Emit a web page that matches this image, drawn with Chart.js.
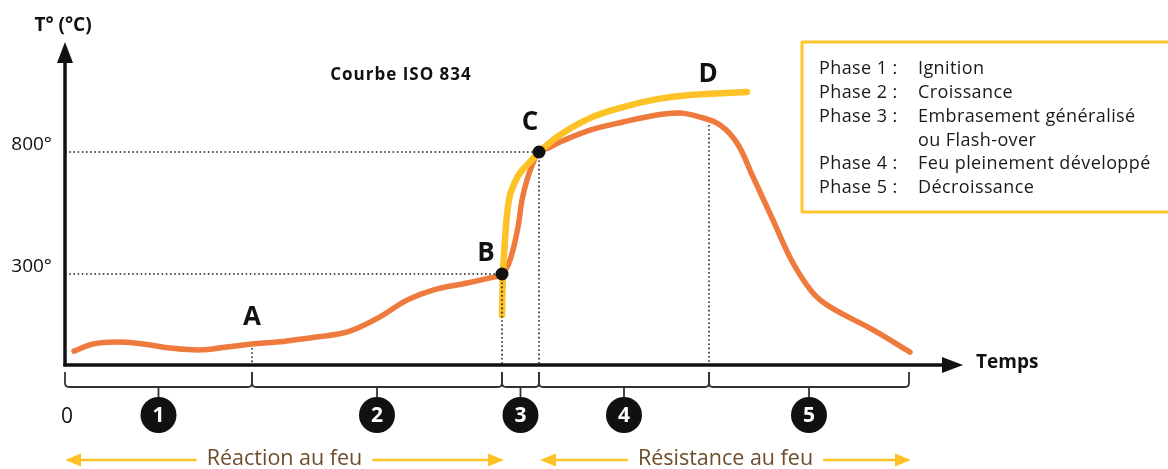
<!DOCTYPE html>
<html><head><meta charset="utf-8">
<script src="https://cdn.jsdelivr.net/npm/chart.js@4"></script>
<style>html,body{margin:0;padding:0;background:#fff;}canvas{display:block}</style>
</head><body>
<canvas id="c" width="1168" height="469"></canvas>
<script>
// ---- data (time units, temperature °C) ----
const fireTime = [9, 28, 52, 78, 105, 135, 162, 187, 212, 245, 278, 295, 315, 342, 368, 402, 425, 437, 445, 453, 457, 462, 468, 474, 485, 495, 525, 558, 592, 615, 635, 655, 672, 688, 708, 728, 748, 765, 808, 845];
const fireTemp = [-16, 13, 21, 13, -3, -11, 1, 13, 21, 38, 58, 83, 124, 193, 234, 263, 284, 300, 357, 493, 603, 685, 755, 800, 820, 841, 890, 923, 952, 960, 943, 911, 837, 698, 521, 345, 222, 165, 71, -20];
const isoTime = [437, 438, 440, 442, 445, 450, 455, 465, 474, 495, 525, 558, 592, 625, 682];
const isoTemp = [132, 304, 439, 542, 624, 677, 714, 759, 800, 870, 939, 984, 1017, 1034, 1046];
const yTickValues = [300, 800];
const markerNames = ['A', 'B', 'C', 'D'];
const markerTime = [187, 437, 474, 644];
const markerTemp = [13, 300, 800, 919];
const phaseBounds = [0, 187, 437, 474, 644, 844];
const phaseNumbers = ['1', '2', '3', '4', '5'];
const phaseLabels = ['Phase 1 :', 'Phase 2 :', 'Phase 3 :', 'Phase 4 :', 'Phase 5 :'];
const phaseNames = [['Ignition'], ['Croissance'], ['Embrasement généralisé', 'ou Flash-over'], ['Feu pleinement développé'], ['Décroissance']];
const zoneNames = ['Réaction au feu', 'Résistance au feu'];
const zoneSpans = [[0, 2], [3, 5]];
const titleText = 'Courbe ISO 834';
const yAxisTitle = 'T° (°C)';
const xAxisTitle = 'Temps';

// ---- styles ----
const ORANGE = '#EE7A3D', YELLOW = '#FCC226', BROWN = '#6E4C2C', INK = '#111';
const markerLabelOffset = [[0, -26], [-16, -20], [-9, -29], [-1, -48]];
const markerDot = [false, true, true, false];
const markerLineStart = [4, 0, 0, 2];

const deco = {
  id: 'deco',
  afterDatasetsDraw(chart) {
    const ctx = chart.ctx, xs = chart.scales.x, ys = chart.scales.y, ca = chart.chartArea;
    const L = ca.left, B = ca.bottom;
    ctx.save();
    // dotted guide lines
    ctx.strokeStyle = '#222'; ctx.lineWidth = 1.6; ctx.setLineDash([1.6, 2.6]);
    markerNames.forEach((n, i) => {
      const px = xs.getPixelForValue(markerTime[i]), py = ys.getPixelForValue(markerTemp[i]);
      ctx.beginPath(); ctx.moveTo(px, py + markerLineStart[i]); ctx.lineTo(px, B); ctx.stroke();
      if (yTickValues.includes(markerTemp[i])) {
        ctx.beginPath(); ctx.moveTo(L, py); ctx.lineTo(px, py); ctx.stroke();
      }
    });
    ctx.setLineDash([]);
    // axes with arrows
    ctx.strokeStyle = INK; ctx.fillStyle = INK; ctx.lineWidth = 3.5;
    ctx.beginPath(); ctx.moveTo(L, B + 1.5); ctx.lineTo(L, ca.top + 18); ctx.stroke();
    ctx.beginPath(); ctx.moveTo(L, ca.top); ctx.lineTo(L - 8, ca.top + 21); ctx.lineTo(L + 8, ca.top + 21); ctx.closePath(); ctx.fill();
    ctx.beginPath(); ctx.moveTo(L - 1.5, B); ctx.lineTo(ca.right - 18, B); ctx.stroke();
    ctx.beginPath(); ctx.moveTo(ca.right, B); ctx.lineTo(ca.right - 21, B - 8); ctx.lineTo(ca.right - 21, B + 8); ctx.closePath(); ctx.fill();
    // markers
    ctx.textAlign = 'center'; ctx.textBaseline = 'middle';
    ctx.font = 'bold 26px "Open Sans"';
    markerNames.forEach((n, i) => {
      const px = xs.getPixelForValue(markerTime[i]), py = ys.getPixelForValue(markerTemp[i]);
      if (markerDot[i]) { ctx.beginPath(); ctx.arc(px, py, 6.5, 0, Math.PI * 2); ctx.fill(); }
      ctx.fillText(n, px + markerLabelOffset[i][0], py + markerLabelOffset[i][1]);
    });
    // titles
    ctx.letterSpacing = '1px';
    ctx.font = 'bold 17px "Open Sans"'; ctx.fillText(titleText, 401, 75);
    ctx.letterSpacing = '0px';
    ctx.font = 'bold 19px "Open Sans"'; ctx.fillText(yAxisTitle, L - 2, 26);
    ctx.textAlign = 'left'; ctx.fillText(xAxisTitle, ca.right + 13, B - 2);
    ctx.textAlign = 'center';
    ctx.font = '21px "Open Sans"'; ctx.fillText('0', L + 2, B + 52);
    // phase brackets
    ctx.strokeStyle = '#333'; ctx.lineWidth = 1.8; ctx.lineJoin = 'round';
    const bt = B + 7, bb = B + 22, r = 4;
    for (let i = 0; i < phaseNumbers.length; i++) {
      const x0 = xs.getPixelForValue(phaseBounds[i]), x1 = xs.getPixelForValue(phaseBounds[i + 1]);
      const m = (x0 + x1) / 2;
      ctx.beginPath();
      ctx.moveTo(x0, bt); ctx.lineTo(x0, bb - r); ctx.quadraticCurveTo(x0, bb, x0 + r, bb);
      ctx.lineTo(x1 - r, bb); ctx.quadraticCurveTo(x1, bb, x1, bb - r); ctx.lineTo(x1, bt);
      ctx.moveTo(m, bb); ctx.lineTo(m, bb + 12);
      ctx.stroke();
      ctx.fillStyle = INK; ctx.beginPath(); ctx.arc(m, B + 50, 18, 0, Math.PI * 2); ctx.fill();
      ctx.fillStyle = '#fff'; ctx.font = 'bold 21px "Open Sans"'; ctx.fillText(phaseNumbers[i], m, B + 51);
    }
    // zone arrows
    const ay = B + 95;
    ctx.font = '21.5px "Open Sans"';
    zoneNames.forEach((name, k) => {
      const x0 = xs.getPixelForValue(phaseBounds[zoneSpans[k][0]]) + (k ? 1 : 0);
      const x1 = xs.getPixelForValue(phaseBounds[zoneSpans[k][1]]) + 2;
      const cx = (x0 + x1) / 2, w = ctx.measureText(name).width;
      ctx.strokeStyle = YELLOW; ctx.fillStyle = YELLOW; ctx.lineWidth = 2.5;
      ctx.beginPath(); ctx.moveTo(x0 + 10, ay); ctx.lineTo(cx - w / 2 - 10, ay);
      ctx.moveTo(cx + w / 2 + 10, ay); ctx.lineTo(x1 - 10, ay); ctx.stroke();
      ctx.beginPath(); ctx.moveTo(x0, ay); ctx.lineTo(x0 + 16, ay - 6.5); ctx.lineTo(x0 + 16, ay + 6.5); ctx.closePath(); ctx.fill();
      ctx.beginPath(); ctx.moveTo(x1, ay); ctx.lineTo(x1 - 16, ay - 6.5); ctx.lineTo(x1 - 16, ay + 6.5); ctx.closePath(); ctx.fill();
      ctx.fillStyle = BROWN; ctx.fillText(name, cx, ay - 1);
    });
    // phase legend box
    ctx.strokeStyle = '#FDC62E'; ctx.lineWidth = 3;
    ctx.strokeRect(802, 42, 380, 170);
    ctx.fillStyle = '#1a1a1a'; ctx.textAlign = 'left'; ctx.font = '18px "Open Sans"';
    ctx.letterSpacing = '0.4px';
    let row = 0;
    phaseLabels.forEach((lab, i) => {
      ctx.fillText(lab, 819, 69 + row * 23.8);
      phaseNames[i].forEach(t => { ctx.fillText(t, 918, 69 + row * 23.8); row++; });
    });
    ctx.restore();
  }
};

new Chart(document.getElementById('c'), {
  type: 'line',
  data: {
    datasets: [
      { label: 'ISO 834', data: isoTime.map((t, i) => ({ x: t, y: isoTemp[i] })), borderColor: YELLOW, borderWidth: 6.5,
        pointRadius: 0, tension: 0.4, borderCapStyle: 'round', fill: false },
      { label: 'Feu', data: fireTime.map((t, i) => ({ x: t, y: fireTemp[i] })), borderColor: ORANGE, borderWidth: 5.5,
        pointRadius: 0, tension: 0.4, borderCapStyle: 'round', fill: false }
    ]
  },
  options: {
    responsive: false, animation: false, devicePixelRatio: 1,
    layout: { padding: { top: 42, right: 205, bottom: 104, left: 0 } },
    plugins: { legend: { display: false }, tooltip: { enabled: false } },
    scales: {
      x: { type: 'linear', min: 0, max: 898, display: false },
      y: { type: 'linear', min: -73, max: 1251,
        grid: { display: false, drawTicks: false }, border: { display: false },
        afterFit: s => { s.width = 65; },
        afterBuildTicks: s => { s.ticks = yTickValues.map(v => ({ value: v })); },
        ticks: { callback: v => v + '°', padding: 13, labelOffset: -7, color: '#111', font: { family: 'Open Sans', size: 19 } } }
    }
  },
  plugins: [deco]
});
</script>
</body></html>
